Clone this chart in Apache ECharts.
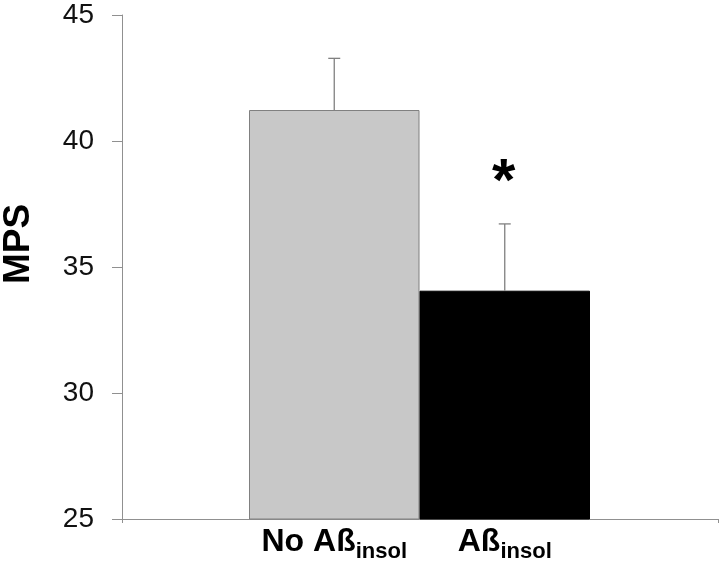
<!DOCTYPE html>
<html>
<head>
<meta charset="utf-8">
<script src="https://cdn.jsdelivr.net/npm/echarts@6/dist/echarts.min.js"></script>
<style>html,body{margin:0;padding:0;background:#fff}#c{width:720px;height:566px}</style>
</head>
<body>
<div id="c"></div>
<script>
const categories = ['No A\u00df', 'A\u00df'];
const subscripts = ['insol', 'insol'];
const means = [41.23, 34.06];
const errors = [2.05, 2.65];
const significance = ['', '*'];
const yMin = 25, yMax = 45, yInterval = 5;
const yAxisName = 'MPS';

const barColors = ['#c8c8c8', '#000000'];
const FONT = '"Liberation Sans", Arial, sans-serif';

const chart = echarts.init(document.getElementById('c'), null, {renderer: 'canvas'});
const errData = means.map((m, i) => [i, m, errors[i], significance[i]]);

chart.setOption({
  backgroundColor: '#ffffff',
  animation: false,
  grid: [
    {left: 122, right: 2, top: 15, bottom: 47},
    {left: 249, width: 341, top: 15, bottom: 47}
  ],
  xAxis: [
    {gridIndex: 0, type: 'value', min: 0, max: 1, interval: 1,
     axisLine: {show: true, lineStyle: {color: '#909090', width: 1}},
     axisTick: {show: true, length: 4, lineStyle: {color: '#909090'}},
     axisLabel: {show: false}, splitLine: {show: false}},
    {gridIndex: 1, type: 'category', data: categories,
     axisLine: {show: false}, axisTick: {show: false}, splitLine: {show: false},
     axisLabel: {
       margin: 7,
       formatter: (v, i) => '{a|' + v + '}{b|' + subscripts[i] + '}',
       rich: {
         a: {fontFamily: FONT, fontWeight: 'bold', fontSize: 32, lineHeight: 32, color: '#000', verticalAlign: 'top'},
         b: {fontFamily: FONT, fontWeight: 'bold', fontSize: 22, lineHeight: 22, color: '#000', verticalAlign: 'top', padding: [15, 0, 0, 0]}
       }
     }}
  ],
  yAxis: [
    {gridIndex: 0, type: 'value', min: yMin, max: yMax, interval: yInterval,
     axisLine: {show: true, lineStyle: {color: '#909090', width: 1}},
     axisTick: {show: true, length: 10, lineStyle: {color: '#909090'}},
     axisLabel: {fontFamily: FONT, fontSize: 28, color: '#111', margin: 28},
     splitLine: {show: false}},
    {gridIndex: 1, type: 'value', min: yMin, max: yMax, interval: yInterval, show: false}
  ],
  graphic: [
    {type: 'text', x: 19, y: 244, rotation: Math.PI / 2,
     style: {text: yAxisName, fontFamily: FONT, fontWeight: 'bold', fontSize: 37, fill: '#000',
             textAlign: 'center', textVerticalAlign: 'middle'}}
  ],
  series: [
    {type: 'bar', xAxisIndex: 1, yAxisIndex: 1, barWidth: '100%', barCategoryGap: 0,
     data: means.map((m, i) => ({value: m, itemStyle: {
       color: barColors[i], borderColor: i === 0 ? '#808080' : '#000', borderWidth: 1}})),
     z: 2},
    {type: 'custom', xAxisIndex: 1, yAxisIndex: 1, z: 3,
     data: errData,
     renderItem: function (params, api) {
       const i = api.value(0), m = api.value(1), e = api.value(2);
       const sig = errData[params.dataIndex][3];
       const base = api.coord([i, m]);
       const top = api.coord([i, m + e]);
       const cap = 6;
       const children = [
         {type: 'line', shape: {x1: base[0], y1: base[1], x2: top[0], y2: top[1]},
          style: {stroke: '#808080', lineWidth: 1.3}},
         {type: 'line', shape: {x1: top[0] - cap, y1: top[1], x2: top[0] + cap, y2: top[1]},
          style: {stroke: '#808080', lineWidth: 1.3}}
       ];
       if (sig) {
         children.push({type: 'text', x: top[0] - 1, y: top[1] - 40,
           style: {text: sig, fontFamily: FONT, fontWeight: 'bold', fontSize: 60, fill: '#000',
                   textAlign: 'center', textVerticalAlign: 'middle'}});
       }
       return {type: 'group', children: children};
     }}
  ]
});
</script>
</body>
</html>
